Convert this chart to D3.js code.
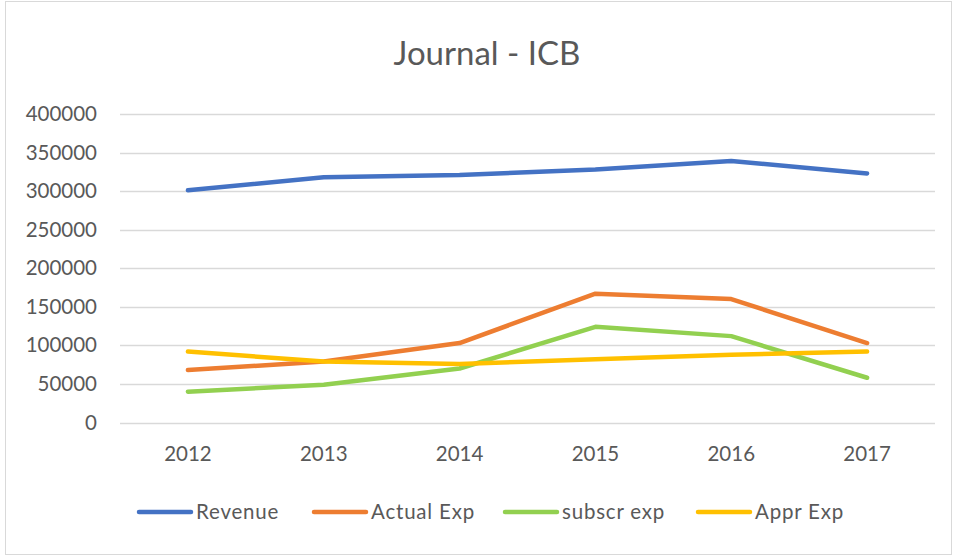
<!DOCTYPE html>
<html>
<head>
<meta charset="utf-8">
<script src="https://cdn.jsdelivr.net/npm/d3@7"></script>
<style>
  html, body { margin: 0; padding: 0; background: #fff; }
  svg { display: block; font-family: Lato, "Open Sans", sans-serif; }
</style>
</head>
<body>
<svg id="chart" width="957" height="557"></svg>
<script>
const years = ['2012', '2013', '2014', '2015', '2016', '2017'];
const revenue = [301000, 318000, 321000, 328000, 339000, 323000];
const actualExp = [68000, 79000, 103000, 167000, 160000, 103000];
const subscrExp = [40000, 49000, 70000, 124000, 112000, 58000];
const apprExp = [92000, 79000, 76000, 82000, 88000, 92000];
const yTicks = [0, 50000, 100000, 150000, 200000, 250000, 300000, 350000, 400000];

const series = [
  { label: 'Revenue', values: revenue, color: '#4472C4' },
  { label: 'Actual Exp', values: actualExp, color: '#ED7D31' },
  { label: 'subscr exp', values: subscrExp, color: '#92D050' },
  { label: 'Appr Exp', values: apprExp, color: '#FFC000' }
];

const width = 957, height = 557;
const margin = { top: 114, right: 22, bottom: 134.5, left: 120 };
const innerWidth = width - margin.left - margin.right;
const innerHeight = height - margin.top - margin.bottom;
const textColor = '#595959';
const fontSize = 20.5;

const svg = d3.select('#chart');

// chart area border
svg.append('rect')
  .attr('x', 5.5).attr('y', 1.5)
  .attr('width', width - 11).attr('height', height - 4)
  .attr('fill', 'none')
  .attr('stroke', '#D9D9D9')
  .attr('stroke-width', 1);

svg.append('text')
  .attr('x', 487)
  .attr('y', 65)
  .attr('text-anchor', 'middle')
  .attr('font-size', 33)
  .attr('fill', textColor)
  .text('Journal - ICB');

const group = svg.append('g')
  .attr('transform', `translate(${margin.left},${margin.top})`);

const xScale = d3.scaleBand().domain(years).range([0, innerWidth]);
const yScale = d3.scaleLinear().domain([0, 400000]).range([innerHeight, 0]);

// gridlines
group.append('g')
  .selectAll('line')
  .data(yTicks)
  .enter()
  .append('line')
  .attr('x1', 0)
  .attr('x2', innerWidth)
  .attr('y1', (d) => Math.round(yScale(d)) + 0.5)
  .attr('y2', (d) => Math.round(yScale(d)) + 0.5)
  .attr('stroke', '#D9D9D9')
  .attr('stroke-width', 1.3);

const yAxis = group.append('g')
  .call(d3.axisLeft(yScale).tickValues(yTicks).tickSize(0).tickPadding(23).tickFormat(d3.format('d')));
yAxis.select('.domain').remove();
yAxis.selectAll('text')
  .attr('font-size', fontSize)
  .attr('font-family', 'Lato, "Open Sans", sans-serif')
  .attr('fill', textColor);

const xAxis = group.append('g')
  .attr('transform', `translate(0,${innerHeight})`)
  .call(d3.axisBottom(xScale).tickSize(0));
xAxis.select('.domain').remove();
xAxis.selectAll('text')
  .attr('y', 38)
  .attr('dy', null)
  .attr('font-size', fontSize)
  .attr('font-family', 'Lato, "Open Sans", sans-serif')
  .attr('fill', textColor);

const line = d3.line()
  .x((d, i) => xScale(years[i]) + xScale.bandwidth() / 2)
  .y((d) => yScale(d));

series.forEach((s) => {
  group.append('path')
    .datum(s.values)
    .attr('d', line)
    .attr('fill', 'none')
    .attr('stroke', s.color)
    .attr('stroke-width', 4.5)
    .attr('stroke-linecap', 'round')
    .attr('stroke-linejoin', 'round');
});

// legend
const legendX = [139, 314, 505, 698];
const legend = svg.append('g').attr('transform', 'translate(0,512)');
series.forEach((s, i) => {
  legend.append('line')
    .attr('x1', legendX[i])
    .attr('x2', legendX[i] + 52)
    .attr('y1', 0)
    .attr('y2', 0)
    .attr('stroke', s.color)
    .attr('stroke-width', 4.5)
    .attr('stroke-linecap', 'round');
  legend.append('text')
    .attr('x', legendX[i] + 57)
    .attr('y', 7)
    .attr('font-size', fontSize)
    .attr('letter-spacing', 0.8)
    .attr('fill', textColor)
    .text(s.label);
});
</script>
</body>
</html>
